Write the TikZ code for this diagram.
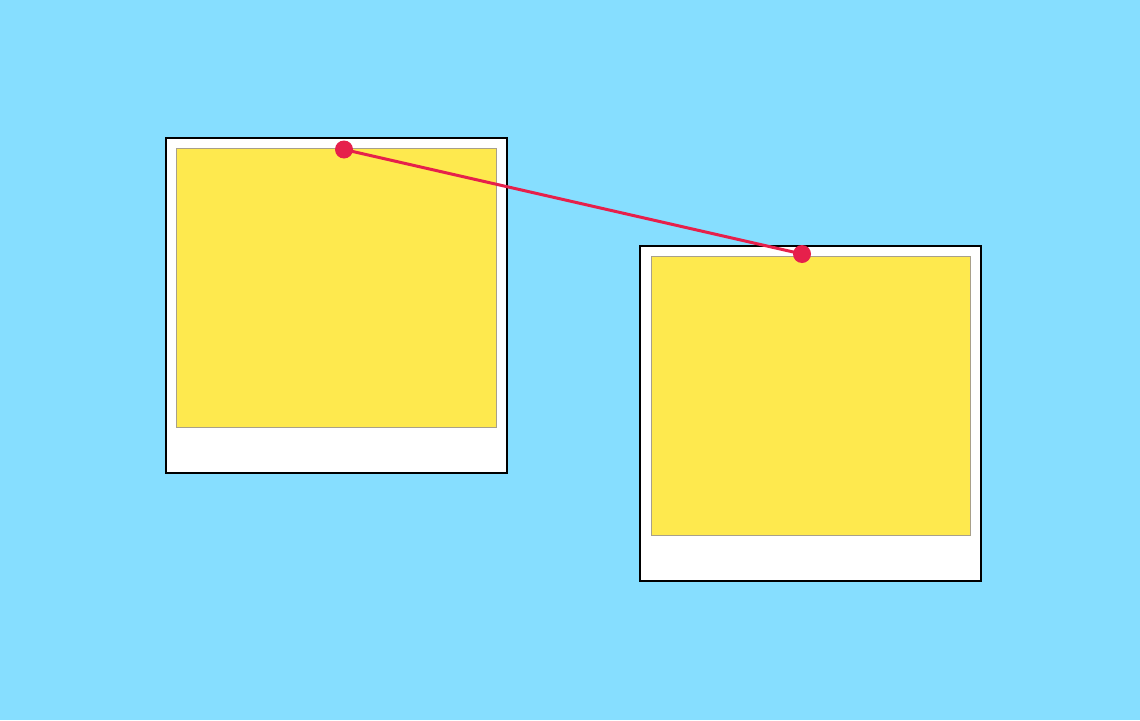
\documentclass[tikz,border=0pt]{standalone}
\usetikzlibrary{positioning}
\definecolor{skyblue}{HTML}{86DEFF}
\definecolor{photoyellow}{HTML}{FEE94E}
\definecolor{pinred}{HTML}{E6204B}
\definecolor{photoedge}{HTML}{A8A08A}
\tikzset{
  frame/.style={draw=black, line width=2pt, fill=white, minimum width=341pt, minimum height=335pt, inner sep=0pt, outer sep=0pt},
  photo/.style={draw=photoedge, line width=0.8pt, fill=photoyellow, minimum width=320pt, minimum height=279pt, inner sep=0pt, outer sep=0pt},
  pin/.style={circle, fill=pinred, minimum size=18pt, inner sep=0pt, outer sep=0pt},
  string/.style={draw=pinred, line width=3pt}
}
\begin{document}
\begin{tikzpicture}[x=1pt,y=-1pt]
  \fill[skyblue] (0,0) rectangle (1140,720);
  \useasboundingbox (0,0) rectangle (1140,720);
  \node[frame] (frameA) at (336,305.5) {};
  \node[photo] (photoA) at (336,287.5) {};
  \node[frame] (frameB) at (810.5,413.5) {};
  \node[photo, minimum width=319pt] (photoB) at (810.5,395.5) {};
  \node[pin] (pinA) at (344,149.5) {};
  \node[pin] (pinB) at (802,254) {};
  \draw[string] (pinA.center) -- (pinB.center);
\end{tikzpicture}
\end{document}
